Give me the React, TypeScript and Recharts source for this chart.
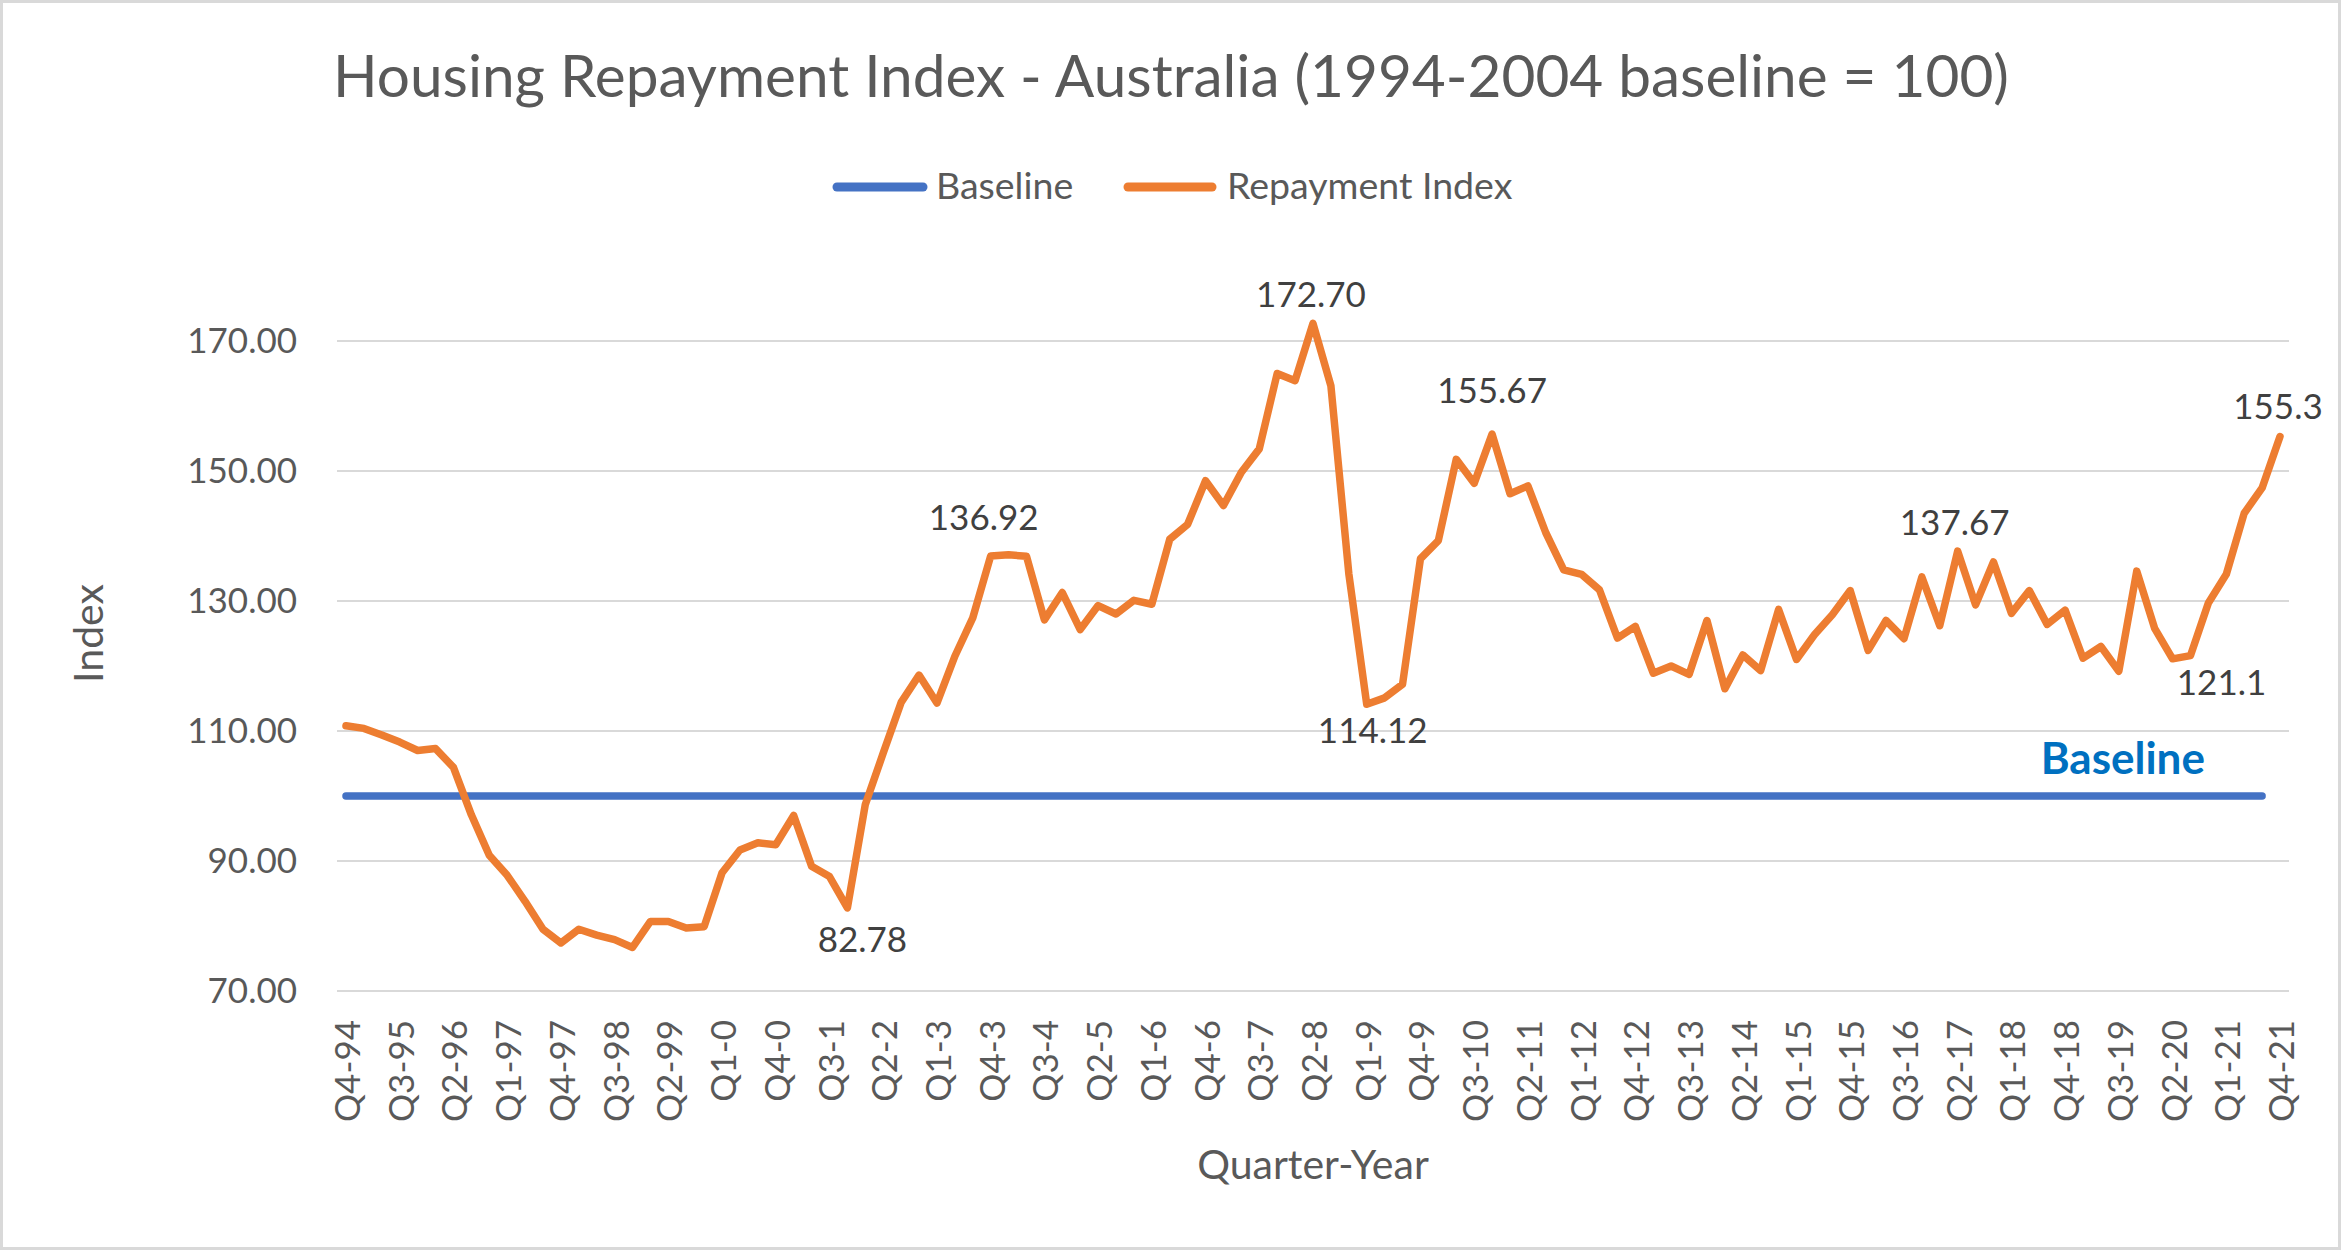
import React from "react";
import { LineChart, Line, XAxis, YAxis, LabelList, ReferenceLine } from "recharts";

const FONT = "Lato, 'Open Sans', 'Liberation Sans', sans-serif";

// Categories: quarter-year
const quarters: string[] = [
  "Q4-94",
  "Q1-95", "Q2-95", "Q3-95", "Q4-95",
  "Q1-96", "Q2-96", "Q3-96", "Q4-96",
  "Q1-97", "Q2-97", "Q3-97", "Q4-97",
  "Q1-98", "Q2-98", "Q3-98", "Q4-98",
  "Q1-99", "Q2-99", "Q3-99", "Q4-99",
  "Q1-0", "Q2-0", "Q3-0", "Q4-0",
  "Q1-1", "Q2-1", "Q3-1", "Q4-1",
  "Q1-2", "Q2-2", "Q3-2", "Q4-2",
  "Q1-3", "Q2-3", "Q3-3", "Q4-3",
  "Q1-4", "Q2-4", "Q3-4", "Q4-4",
  "Q1-5", "Q2-5", "Q3-5", "Q4-5",
  "Q1-6", "Q2-6", "Q3-6", "Q4-6",
  "Q1-7", "Q2-7", "Q3-7", "Q4-7",
  "Q1-8", "Q2-8", "Q3-8", "Q4-8",
  "Q1-9", "Q2-9", "Q3-9", "Q4-9",
  "Q1-10", "Q2-10", "Q3-10", "Q4-10",
  "Q1-11", "Q2-11", "Q3-11", "Q4-11",
  "Q1-12", "Q2-12", "Q3-12", "Q4-12",
  "Q1-13", "Q2-13", "Q3-13", "Q4-13",
  "Q1-14", "Q2-14", "Q3-14", "Q4-14",
  "Q1-15", "Q2-15", "Q3-15", "Q4-15",
  "Q1-16", "Q2-16", "Q3-16", "Q4-16",
  "Q1-17", "Q2-17", "Q3-17", "Q4-17",
  "Q1-18", "Q2-18", "Q3-18", "Q4-18",
  "Q1-19", "Q2-19", "Q3-19", "Q4-19",
  "Q1-20", "Q2-20", "Q3-20", "Q4-20",
  "Q1-21", "Q2-21", "Q3-21", "Q4-21",
];

// Series: Repayment Index
const repaymentIndex: number[] = [
  110.8,
  110.4, 109.4, 108.3, 107.0,
  107.3, 104.4, 97.1, 90.9,
  87.8, 83.8, 79.5, 77.4,
  79.5, 78.6, 77.9, 76.7,
  80.7, 80.7, 79.7, 79.9,
  88.2, 91.7, 92.8, 92.5,
  97.0, 89.2, 87.6, 82.78,
  98.7, 106.6, 114.4, 118.6,
  114.3, 121.5, 127.4, 136.92,
  137.1, 136.9, 127.1, 131.3,
  125.6, 129.3, 128.0, 130.1,
  129.5, 139.5, 141.8, 148.5,
  144.7, 149.8, 153.4, 165.0,
  163.9, 172.7, 163.1, 134.2,
  114.12, 115.1, 117.2, 136.5,
  139.3, 151.8, 148.1, 155.67,
  146.5, 147.7, 140.5, 134.8,
  134.1, 131.7, 124.3, 126.1,
  118.9, 120.0, 118.7, 127.0,
  116.5, 121.7, 119.3, 128.7,
  121.0, 124.8, 127.9, 131.6,
  122.4, 127.0, 124.2, 133.7,
  126.2, 137.67, 129.4, 136.0,
  128.1, 131.6, 126.4, 128.6,
  121.2, 123.0, 119.2, 134.6,
  125.8, 121.1, 121.6, 129.7,
  134.1, 143.5, 147.4, 155.3,
];

// Series: Baseline (1994-2004 = 100), drawn through Q3-21
const baselineIndex: number[] = [
  100, 100, 100, 100, 100, 100, 100, 100, 100,
  100, 100, 100, 100, 100, 100, 100, 100, 100,
  100, 100, 100, 100, 100, 100, 100, 100, 100,
  100, 100, 100, 100, 100, 100, 100, 100, 100,
  100, 100, 100, 100, 100, 100, 100, 100, 100,
  100, 100, 100, 100, 100, 100, 100, 100, 100,
  100, 100, 100, 100, 100, 100, 100, 100, 100,
  100, 100, 100, 100, 100, 100, 100, 100, 100,
  100, 100, 100, 100, 100, 100, 100, 100, 100,
  100, 100, 100, 100, 100, 100, 100, 100, 100,
  100, 100, 100, 100, 100, 100, 100, 100, 100,
  100, 100, 100, 100, 100, 100, 100, 100, 100,
];

const yTicks: number[] = [70, 90, 110, 130, 150, 170];
const yDomain: number[] = [70, 180];

// Annotated data points (category index -> label text)
const annotatedIndex: number[] = [28, 36, 54, 57, 64, 90, 102, 108];
const annotatedText: string[] = ["82.78", "136.92", "172.70", "114.12", "155.67", "137.67", "121.1", "155.3"];
const baselineTagIndex = 99;
const baselineTagText = "Baseline";

// Label placement (styling only, kept apart from data)
const labelPlacement: Record<string, { dx: number; dy: number }> = {
  "82.78": { dx: 15, dy: 44 },
  "136.92": { dx: -7, dy: -26 },
  "172.70": { dx: -2, dy: -16 },
  "114.12": { dx: 6, dy: 39 },
  "155.67": { dx: 0, dy: -31 },
  "137.67": { dx: -3, dy: -16 },
  "121.1": { dx: 49, dy: 36 },
  "155.3": { dx: -2, dy: -18 },
};

const chartData = quarters.map((q, i) => {
  const k = annotatedIndex.indexOf(i);
  return {
    quarter: q,
    repayment: repaymentIndex[i],
    baseline: i < baselineIndex.length ? baselineIndex[i] : null,
    note: k >= 0 ? annotatedText[k] : null,
    tag: i === baselineTagIndex ? baselineTagText : null,
  };
});

const getXY = (props: any) => {
  const x = props.x ?? props.viewBox?.x;
  const y = props.y ?? props.viewBox?.y;
  return { x: Number(x), y: Number(y) };
};

const DataLabel = (props: any) => {
  const { value } = props;
  if (value == null || value === "") return null;
  const { x, y } = getXY(props);
  const p = labelPlacement[String(value)] || { dx: 0, dy: -20 };
  return (
    <text x={x + p.dx} y={y + p.dy} textAnchor="middle" fill="#404040" fontSize={35} fontFamily={FONT}>
      {value}
    </text>
  );
};

const BaselineTag = (props: any) => {
  const { value } = props;
  if (value == null || value === "") return null;
  const { x, y } = getXY(props);
  return (
    <text x={x + 4} y={y - 22} textAnchor="middle" fill="#0070C0" fontSize={44} fontWeight={700} fontFamily={FONT}>
      {value}
    </text>
  );
};

const XTick = (props: any) => {
  const { x, y, payload } = props;
  return (
    <text
      x={x}
      y={y}
      transform={`rotate(-90 ${x} ${y})`}
      textAnchor="end"
      dominantBaseline="central"
      fill="#595959"
      fontSize={35}
      fontFamily={FONT}
    >
      {payload.value}
    </text>
  );
};

const XTitle = (props: any) => {
  const vb = props.viewBox || {};
  return (
    <text x={vb.x + vb.width / 2} y={vb.y + 188} textAnchor="middle" fill="#595959" fontSize={41} fontFamily={FONT}>
      Quarter-Year
    </text>
  );
};

const YTitle = (props: any) => {
  const vb = props.viewBox || {};
  const x = vb.x - 34;
  const y = vb.y + vb.height / 2;
  return (
    <text x={x} y={y} transform={`rotate(-90 ${x} ${y})`} textAnchor="middle" fill="#595959" fontSize={41} fontFamily={FONT}>
      Index
    </text>
  );
};

const W = 2341;
const H = 1250;

export default function App() {
  return (
    <div style={{ position: "absolute", left: 0, top: 0, width: W, height: H, background: "#FFFFFF" }}>
      <LineChart
        width={W}
        height={H}
        data={chartData}
        margin={{ top: 276, right: 52, left: 137, bottom: 109 }}
      >
        {yTicks.map((t) => (
          <ReferenceLine key={`grid-${t}`} y={t} stroke="#D9D9D9" strokeWidth={2} />
        ))}
        <XAxis
          dataKey="quarter"
          interval={2}
          tick={<XTick />}
          tickLine={false}
          axisLine={false}
          tickSize={0}
          tickMargin={29}
          height={150}
          padding={{ left: 9, right: 9 }}
          label={<XTitle />}
        />
        <YAxis
          domain={yDomain}
          ticks={yTicks}
          allowDataOverflow={false}
          tickFormatter={(v: number) => v.toFixed(2)}
          tick={{ fill: "#595959", fontSize: 35, fontFamily: FONT }}
          tickLine={false}
          axisLine={false}
          tickSize={0}
          tickMargin={40}
          width={200}
          label={<YTitle />}
        />
        <Line
          dataKey="baseline"
          name="Baseline"
          stroke="#4472C4"
          strokeWidth={7.5}
          strokeLinecap="round"
          strokeLinejoin="round"
          dot={false}
          activeDot={false}
          isAnimationActive={false}
          connectNulls={false}
        >
          <LabelList dataKey="tag" content={<BaselineTag />} />
        </Line>
        <Line
          dataKey="repayment"
          name="Repayment Index"
          stroke="#ED7D31"
          strokeWidth={7.5}
          strokeLinecap="round"
          strokeLinejoin="round"
          dot={false}
          activeDot={false}
          isAnimationActive={false}
        >
          <LabelList dataKey="note" content={<DataLabel />} />
        </Line>
      </LineChart>
      <svg
        width={W}
        height={H}
        style={{ position: "absolute", left: 0, top: 0, pointerEvents: "none" }}
      >
        <rect x={1.5} y={1.5} width={W - 3} height={H - 3} fill="none" stroke="#D9D9D9" strokeWidth={3} />
        <text x={1171} y={97} textAnchor="middle" fill="#595959" fontSize={58.5} fontFamily={FONT}>
          Housing Repayment Index - Australia (1994-2004 baseline = 100)
        </text>
        <line x1={837} y1={187} x2={923} y2={187} stroke="#4472C4" strokeWidth={9} strokeLinecap="round" />
        <text x={936} y={199} fill="#595959" fontSize={37.5} fontFamily={FONT}>
          Baseline
        </text>
        <line x1={1128} y1={187} x2={1212} y2={187} stroke="#ED7D31" strokeWidth={9} strokeLinecap="round" />
        <text x={1227} y={199} fill="#595959" fontSize={37.5} fontFamily={FONT}>
          Repayment Index
        </text>
      </svg>
    </div>
  );
}
